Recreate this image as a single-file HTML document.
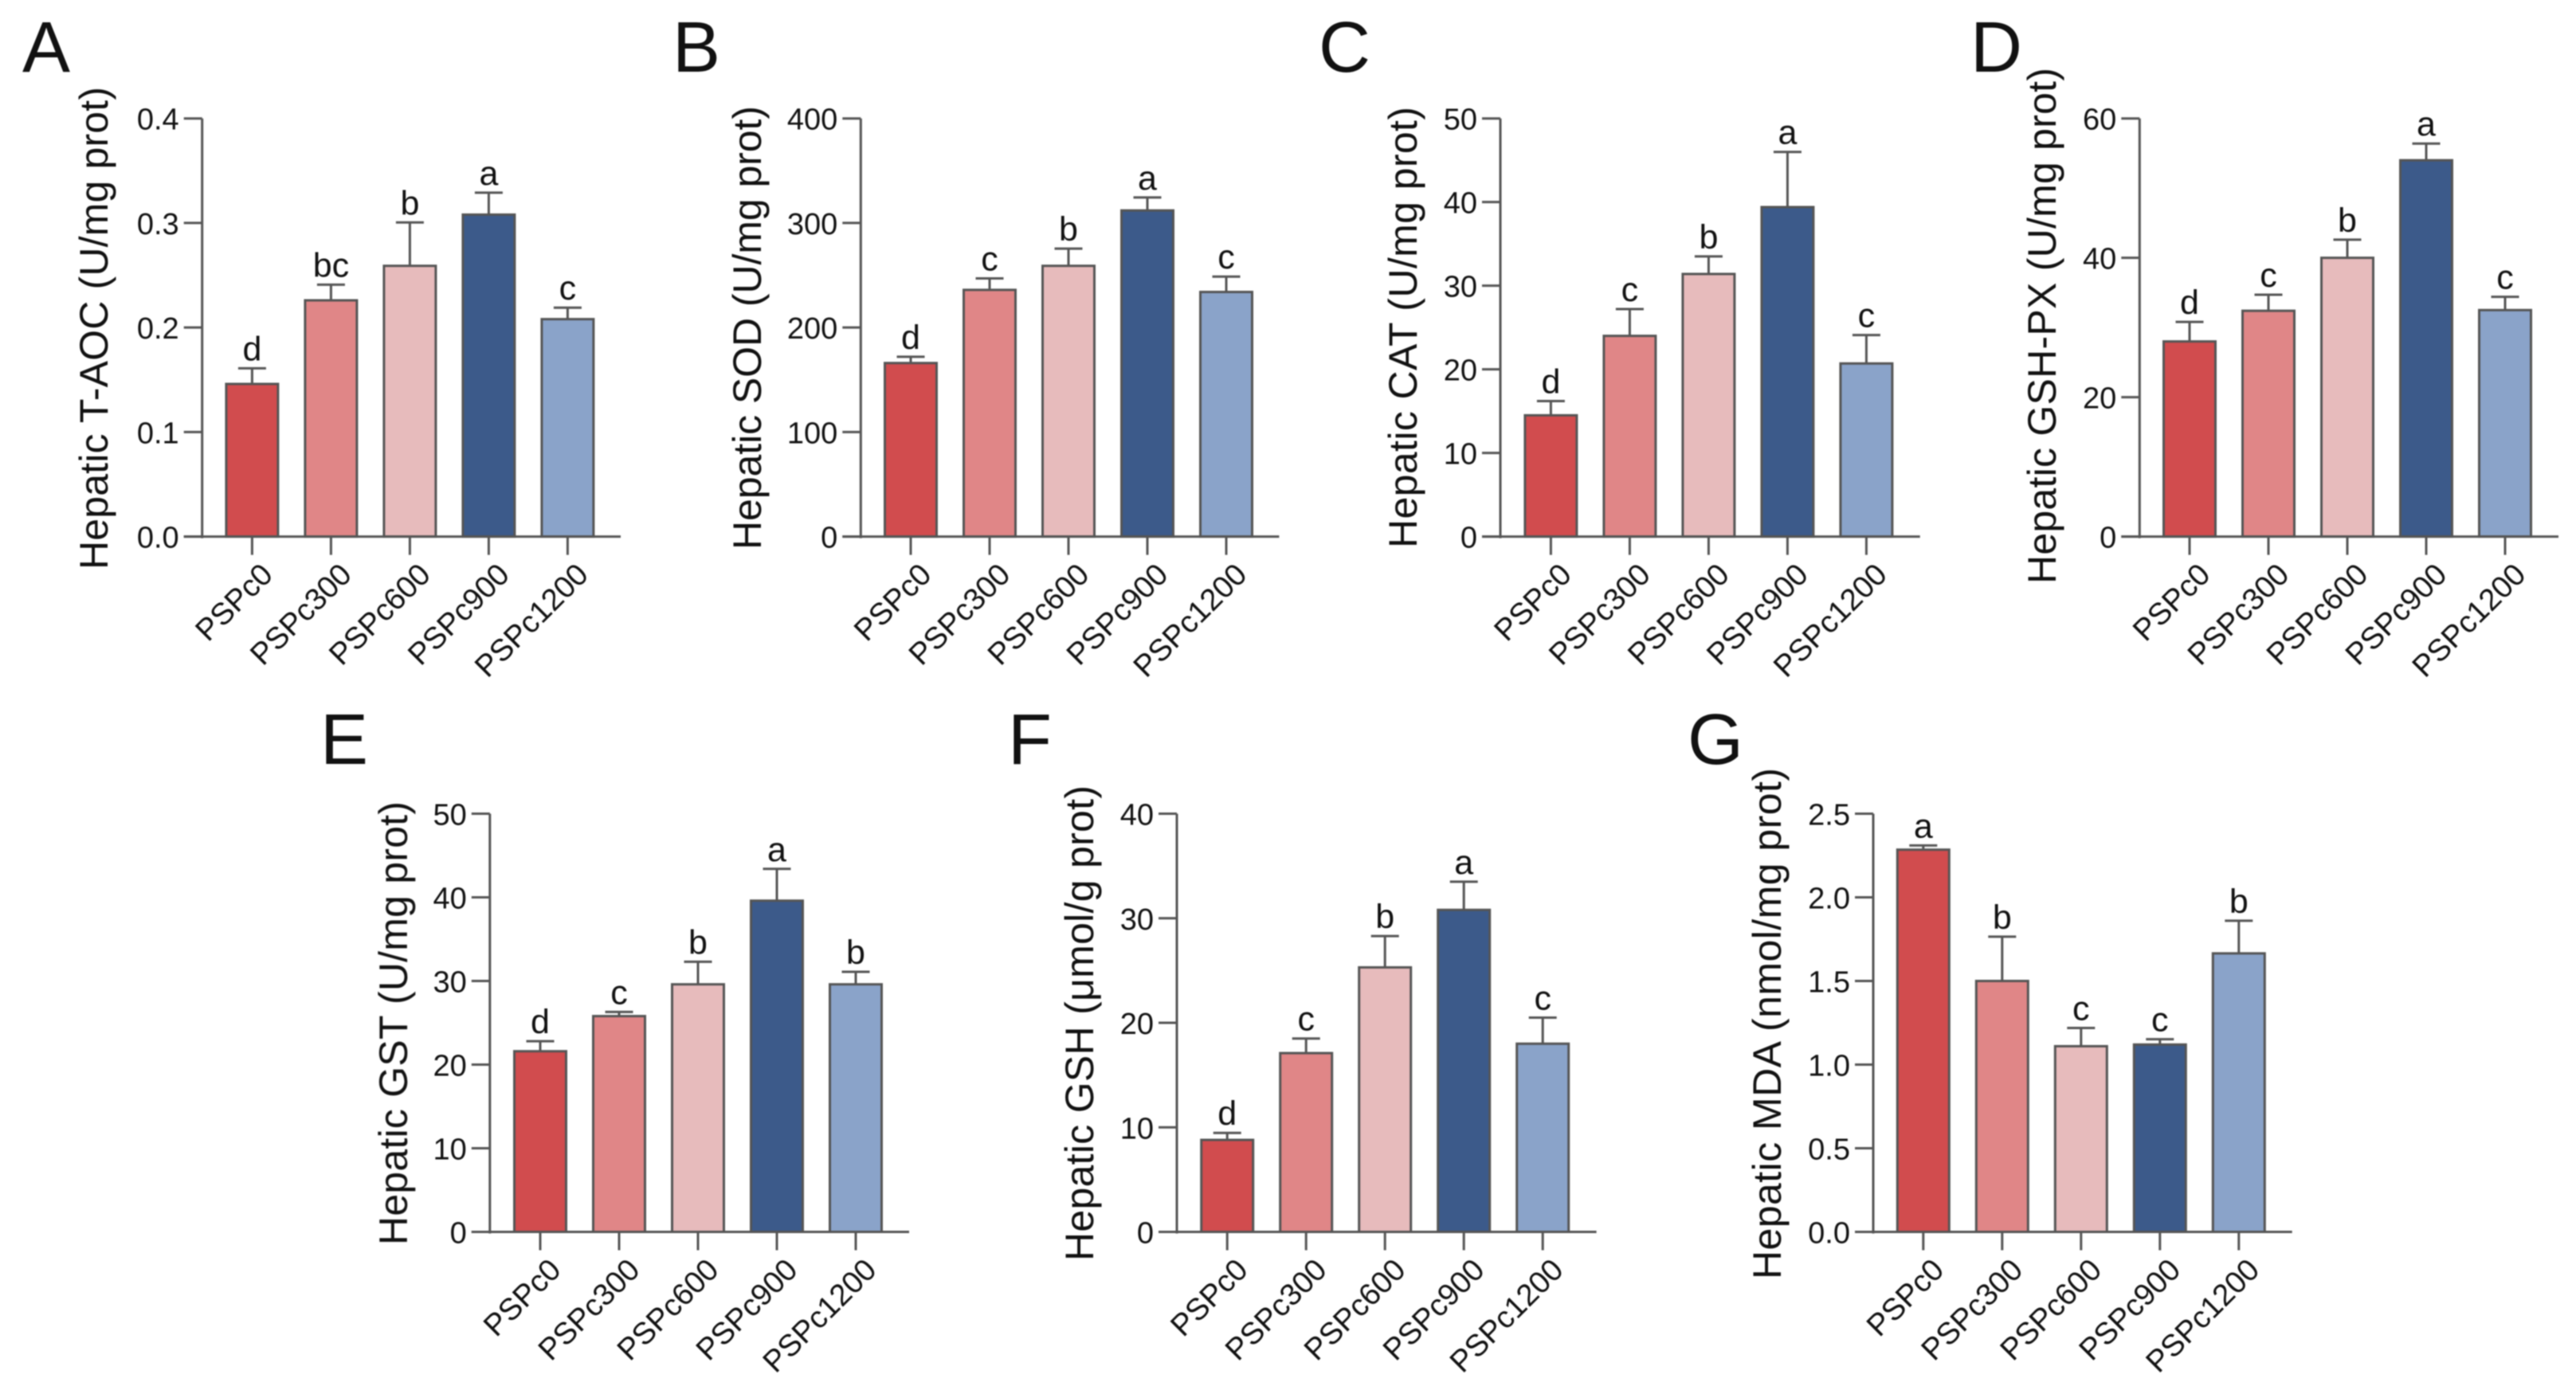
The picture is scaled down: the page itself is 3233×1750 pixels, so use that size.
<!DOCTYPE html>
<html lang="en">
<head>
<meta charset="utf-8">
<title>Hepatic antioxidant indices by PSPc dose</title>
<style>
  html, body { margin: 0; padding: 0; background: #ffffff; }
  body { width: 3233px; height: 1750px; overflow: hidden; }
  svg { display: block; }
  text { font-family: "Liberation Sans", Arial, sans-serif; fill: #111111; }
  #figure-content { filter: blur(0.7px); }
</style>
</head>
<body>
<svg id="figure" xmlns="http://www.w3.org/2000/svg" width="3233" height="1750" viewBox="0 0 3233 1750">
  <g id="figure-content"></g>
</svg>
<script>
// Shared categories
const categories = ["PSPc0", "PSPc300", "PSPc600", "PSPc900", "PSPc1200"];

// Panel A: Hepatic T-AOC
const aTicks = ["0.0", "0.1", "0.2", "0.3", "0.4"];
const aValues = [0.146, 0.226, 0.259, 0.308, 0.208];
const aUpper = [0.161, 0.241, 0.3005, 0.329, 0.219];
const aLetters = ["d", "bc", "b", "a", "c"];

// Panel B: Hepatic SOD
const bTicks = ["0", "100", "200", "300", "400"];
const bValues = [166, 236, 259, 312, 234];
const bUpper = [172, 247, 275.5, 324.4, 248.7];
const bLetters = ["d", "c", "b", "a", "c"];

// Panel C: Hepatic CAT
const cTicks = ["0", "10", "20", "30", "40", "50"];
const cValues = [14.5, 24, 31.4, 39.4, 20.7];
const cUpper = [16.2, 27.2, 33.5, 46, 24.1];
const cLetters = ["d", "c", "b", "a", "c"];

// Panel D: Hepatic GSH-PX
const dTicks = ["0", "20", "40", "60"];
const dValues = [28, 32.4, 40, 54, 32.5];
const dUpper = [30.8, 34.7, 42.6, 56.4, 34.4];
const dLetters = ["d", "c", "b", "a", "c"];

// Panel E: Hepatic GST
const eTicks = ["0", "10", "20", "30", "40", "50"];
const eValues = [21.6, 25.8, 29.6, 39.6, 29.6];
const eUpper = [22.8, 26.3, 32.3, 43.4, 31.1];
const eLetters = ["d", "c", "b", "a", "b"];

// Panel F: Hepatic GSH
const fTicks = ["0", "10", "20", "30", "40"];
const fValues = [8.8, 17.1, 25.3, 30.8, 18];
const fUpper = [9.47, 18.5, 28.3, 33.5, 20.5];
const fLetters = ["d", "c", "b", "a", "c"];

// Panel G: Hepatic MDA
const gTicks = ["0.0", "0.5", "1.0", "1.5", "2.0", "2.5"];
const gValues = [2.285, 1.5, 1.11, 1.12, 1.665];
const gUpper = [2.31, 1.765, 1.219, 1.152, 1.86];
const gLetters = ["a", "b", "c", "c", "b"];

// Styling
const barFills = ["#d14c4e", "#e08687", "#e7bbbc", "#3c5a8a", "#8aa3c9"];
const lineColor = "#555555";
const lineWidth = 3;
const barWidth = 65;
const capWidth = 35;
const tickLength = 23;

// Panel layout (pixel geometry, separate from the data)
const panels = [
  { id: "a", letter: "A", letterX: 28, letterY: 90, axisX: 253.7, firstX: 316.4, step: 99, right: 779, top: 148.7, base: 673.6,
    title: "Hepatic T-AOC (U/mg prot)", titleX: 135, titleBottom: 715, titleSpan: 606,
    ticks: aTicks, values: aValues, upper: aUpper, letters: aLetters },
  { id: "b", letter: "B", letterX: 844, letterY: 90, axisX: 1080.3, firstX: 1143, step: 99, right: 1605.4, top: 148.7, base: 673.6,
    title: "Hepatic SOD (U/mg prot)", titleX: 954.8, titleBottom: 690, titleSpan: 557,
    ticks: bTicks, values: bValues, upper: bUpper, letters: bLetters },
  { id: "c", letter: "C", letterX: 1655, letterY: 90, axisX: 1883, firstX: 1946.4, step: 99, right: 2409.7, top: 148.7, base: 673.6,
    title: "Hepatic CAT (U/mg prot)", titleX: 1778, titleBottom: 688, titleSpan: 554,
    ticks: cTicks, values: cValues, upper: cUpper, letters: cLetters },
  { id: "d", letter: "D", letterX: 2473, letterY: 90, axisX: 2685.3, firstX: 2748, step: 99, right: 3211, top: 148.7, base: 673.6,
    title: "Hepatic GSH-PX (U/mg prot)", titleX: 2580, titleBottom: 733, titleSpan: 648,
    ticks: dTicks, values: dValues, upper: dUpper, letters: dLetters },
  { id: "e", letter: "E", letterX: 402, letterY: 959, axisX: 614.8, firstX: 678, step: 99, right: 1141, top: 1021.5, base: 1546.5,
    title: "Hepatic GST (U/mg prot)", titleX: 510.8, titleBottom: 1563, titleSpan: 557,
    ticks: eTicks, values: eValues, upper: eUpper, letters: eLetters },
  { id: "f", letter: "F", letterX: 1265, letterY: 959, axisX: 1477, firstX: 1540.2, step: 99, right: 2003.6, top: 1021.5, base: 1546.5,
    title: "Hepatic GSH (\u03bcmol/g prot)", titleX: 1371.8, titleBottom: 1583, titleSpan: 597,
    ticks: fTicks, values: fValues, upper: fUpper, letters: fLetters },
  { id: "g", letter: "G", letterX: 2118, letterY: 959, axisX: 2351, firstX: 2413.8, step: 99, right: 2876.7, top: 1021.5, base: 1546.5,
    title: "Hepatic MDA (nmol/mg prot)", titleX: 2235, titleBottom: 1606, titleSpan: 642,
    ticks: gTicks, values: gValues, upper: gUpper, letters: gLetters }
];

const SVG_NS = "http://www.w3.org/2000/svg";
const root = document.getElementById("figure-content");

function make(tag, attrs, parent, content) {
  const node = document.createElementNS(SVG_NS, tag);
  for (const key of Object.keys(attrs)) {
    node.setAttribute(key, attrs[key]);
  }
  if (content !== undefined) {
    node.textContent = content;
  }
  parent.appendChild(node);
  return node;
}

function line(x1, y1, x2, y2, parent) {
  return make("line", { x1: x1, y1: y1, x2: x2, y2: y2, stroke: lineColor, "stroke-width": lineWidth }, parent);
}

function drawPanel(p) {
  const maxValue = parseFloat(p.ticks[p.ticks.length - 1]);
  const minValue = parseFloat(p.ticks[0]);
  const yScale = function (v) {
    return p.base - (v - minValue) / (maxValue - minValue) * (p.base - p.top);
  };
  const xScale = function (i) {
    return p.firstX + i * p.step;
  };

  const panel = make("g", {}, root);
  
  

  const panelLabel = make("text", { x: p.letterX, y: p.letterY, "font-size": 90, fill: "#000000" }, panel, p.letter);
  
  

  const yTitle = make("text", {
    x: p.titleX, y: p.titleBottom, "font-size": 50, textLength: p.titleSpan, lengthAdjust: "spacing",
    transform: "rotate(-90 " + p.titleX + " " + p.titleBottom + ")"
  }, panel, p.title);
  
  

  // Bars, error bars and significance letters
  categories.forEach(function (category, i) {
    const cx = xScale(i);
    const topY = yScale(p.values[i]);
    const upperY = yScale(p.upper[i]);

    const stem = line(cx, topY, cx, upperY, panel);
    
    

    const cap = line(cx - capWidth / 2, upperY, cx + capWidth / 2, upperY, panel);
    
    

    const bar = make("rect", {
      x: cx - barWidth / 2, y: topY, width: barWidth, height: p.base - topY,
      fill: barFills[i], stroke: lineColor, "stroke-width": lineWidth
    }, panel);
    
    

    const sig = make("text", { x: cx, y: upperY - 10, "font-size": 43, "text-anchor": "middle" }, panel, p.letters[i]);
    
    

    const tick = line(cx, p.base, cx, p.base + tickLength, panel);
    
    

    const ax = cx + 28;
    const ay = p.base + 50;
    const xLabel = make("text", {
      x: ax, y: ay, "font-size": 38.5, "text-anchor": "end",
      transform: "rotate(-45 " + ax + " " + ay + ")"
    }, panel, category);
    
    
  });

  // Axes
  const yAxis = line(p.axisX, p.top, p.axisX, p.base + 2, panel);
  
  

  const xAxis = line(p.axisX - tickLength, p.base, p.right, p.base, panel);
  
  

  p.ticks.forEach(function (label) {
    const y = yScale(parseFloat(label));
    const yTick = line(p.axisX - tickLength, y, p.axisX, y, panel);
    
    

    const yLabel = make("text", { x: p.axisX - 29, y: y + 14, "font-size": 38, "text-anchor": "end" }, panel, label);
    
    
  });
}

panels.forEach(drawPanel);
</script>
</body>
</html>
